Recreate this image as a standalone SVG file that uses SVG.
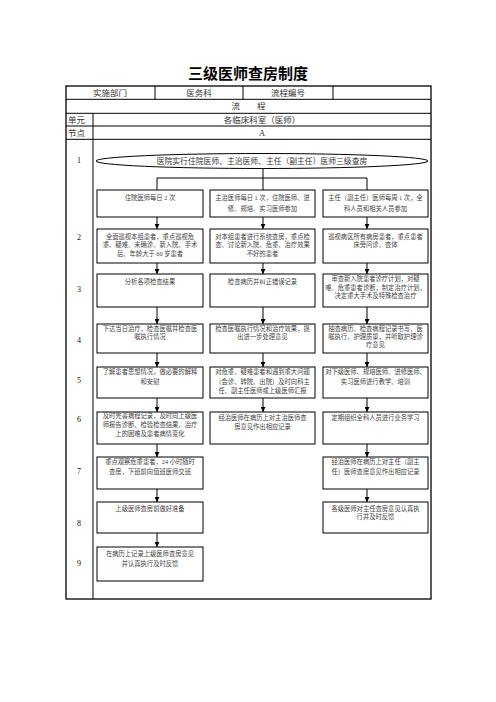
<svg xmlns="http://www.w3.org/2000/svg" width="496" height="702" viewBox="0 0 496 702">
<style>
.t{font-family:"Liberation Serif","Noto Sans CJK SC",serif;fill:#333;}
.h{font-size:8.5px;}
.b{font-size:6.3px;text-anchor:middle;fill:#444;}
.n{font-size:8px;text-anchor:middle;fill:#111;}
.box{fill:#fff;stroke:#000;stroke-width:1;}
.ln{stroke:#000;stroke-width:1;fill:none;}
.ar{stroke:#000;stroke-width:1;fill:none;marker-end:url(#ah);}
</style>
<defs>
<marker id="ah" viewBox="0 0 6 6" refX="6" refY="3" markerWidth="5" markerHeight="5" markerUnits="userSpaceOnUse" orient="auto"><path d="M0,0 L6,3 L0,6 z" fill="#000"/></marker>
</defs>
<rect width="496" height="702" fill="#fff"/>
<text x="248" y="78.5" style="font-family:'Noto Sans CJK SC',sans-serif;font-size:15px;font-weight:bold;text-anchor:middle;fill:#000">三级医师查房制度</text>

<g id="table" fill="none" stroke="#000">
<rect x="66" y="86" width="365" height="513" stroke-width="1.3"/>
<line x1="66" y1="99.3" x2="431" y2="99.3"/>
<line x1="66" y1="113.3" x2="431" y2="113.3"/>
<line x1="66" y1="126" x2="431" y2="126"/>
<line x1="66" y1="139.3" x2="431" y2="139.3"/>
<line x1="155" y1="86" x2="155" y2="99.3"/>
<line x1="243" y1="86" x2="243" y2="99.3"/>
<line x1="333" y1="86" x2="333" y2="99.3"/>
<line x1="93" y1="113.3" x2="93" y2="599"/>
</g>
<g id="header" class="t h">
<text x="110" y="95.5" text-anchor="middle">实施部门</text>
<text x="199" y="95.5" text-anchor="middle">医务科</text>
<text x="288" y="95.5" text-anchor="middle">流程编号</text>
<text x="248.5" y="109.2" text-anchor="middle">流　　程</text>
<text x="68" y="122.6">单元</text>
<text x="262" y="122.6" text-anchor="middle">各临床科室（医师）</text>
<text x="68" y="135.6">节点</text>
<text x="262" y="135.6" text-anchor="middle">A</text>
</g>
<g id="labels" class="t n">
<text x="79" y="163">1</text>
<text x="79" y="240">2</text>
<text x="79" y="292">3</text>
<text x="79" y="343">4</text>
<text x="79" y="383">5</text>
<text x="79" y="422">6</text>
<text x="79" y="474">7</text>
<text x="79" y="526">8</text>
<text x="79" y="566">9</text>
</g>

<g id="connectors">
<line class="ln" x1="263" y1="168.5" x2="263" y2="178"/>
<line class="ln" x1="157" y1="178" x2="367" y2="178"/>
<line class="ln" x1="157" y1="178" x2="157" y2="190"/>
<line class="ln" x1="263" y1="178" x2="263" y2="190"/>
<line class="ln" x1="367" y1="178" x2="367" y2="190"/>
<line class="ar" x1="157" y1="217" x2="157" y2="229"/>
<line class="ar" x1="157" y1="263" x2="157" y2="274"/>
<line class="ar" x1="157" y1="307" x2="157" y2="324"/>
<line class="ar" x1="157" y1="353" x2="157" y2="367"/>
<line class="ar" x1="157" y1="398" x2="157" y2="412"/>
<line class="ar" x1="157" y1="444" x2="157" y2="457"/>
<line class="ar" x1="157" y1="489" x2="157" y2="502"/>
<line class="ar" x1="157" y1="533" x2="157" y2="547"/>
<line class="ar" x1="263" y1="217" x2="263" y2="229"/>
<line class="ar" x1="263" y1="263" x2="263" y2="274"/>
<line class="ar" x1="263" y1="307" x2="263" y2="324"/>
<line class="ar" x1="263" y1="353" x2="263" y2="367"/>
<line class="ar" x1="263" y1="398" x2="263" y2="412"/>
<line class="ar" x1="367" y1="217" x2="367" y2="229"/>
<line class="ar" x1="367" y1="263" x2="367" y2="274"/>
<line class="ar" x1="367" y1="307" x2="367" y2="324"/>
<line class="ar" x1="367" y1="353" x2="367" y2="367"/>
<line class="ar" x1="367" y1="398" x2="367" y2="412"/>
<line class="ar" x1="367" y1="444" x2="367" y2="457"/>
<line class="ar" x1="367" y1="489" x2="367" y2="502"/>
</g>

<g id="start">
<ellipse class="box" cx="262" cy="161" rx="166" ry="7.5"/>
<text class="t" x="262" y="163.8" style="font-size:7.8px;text-anchor:middle">医院实行住院医师、主治医师、主任（副主任）医师三级查房</text>
</g>

<g id="n1a"><rect class="box" x="97" y="190" width="106" height="27"/><text class="t b" x="150" y="199.5">住院医师每日 2 次</text></g>
<g id="n1b"><rect class="box" x="210" y="190" width="105" height="27"/><text class="t b" x="262.5" y="199.5">主治医师每日 1 次，住院医师、进</text><text class="t b" x="262.5" y="211.3">修、规培、实习医师参加</text></g>
<g id="n1c"><rect class="box" x="323" y="190" width="105" height="27"/><text class="t b" x="375.5" y="199.5">主任（副主任）医师每周 1 次，全</text><text class="t b" x="375.5" y="211.3">科人员和相关人员参加</text></g>

<g id="n2a"><rect class="box" x="97" y="229" width="106" height="34"/><text class="t b" x="150" y="239">全面巡视本组患者，重点巡视危</text><text class="t b" x="150" y="247.3">重、疑难、未确诊、新入院、手术</text><text class="t b" x="150" y="255.6">后、年龄大于 60 岁患者</text></g>
<g id="n2b"><rect class="box" x="210" y="229" width="105" height="34"/><text class="t b" x="262.5" y="239">对本组患者进行系统查房，重点检</text><text class="t b" x="262.5" y="247.3">查、讨论新入院、危重、治疗效果</text><text class="t b" x="262.5" y="255.6">不好的患者</text></g>
<g id="n2c"><rect class="box" x="323" y="229" width="105" height="34"/><text class="t b" x="375.5" y="239">巡视病区所有病房患者，重点患者</text><text class="t b" x="375.5" y="247.3">床旁问诊、查体</text></g>

<g id="n3a"><rect class="box" x="97" y="274" width="106" height="33"/><text class="t b" x="150" y="283.5">分析各项检查结果</text></g>
<g id="n3b"><rect class="box" x="210" y="274" width="105" height="33"/><text class="t b" x="262.5" y="283.5">检查病历并纠正错误记录</text></g>
<g id="n3c"><rect class="box" x="323" y="274" width="105" height="33"/><text class="t b" x="375.5" y="281.3">审查新入院患者诊疗计划，对疑</text><text class="t b" x="375.5" y="289.6">难、危重患者诊断，制定治疗计划，</text><text class="t b" x="375.5" y="297.9">决定重大手术及特殊检查治疗</text></g>

<g id="n4a"><rect class="box" x="97" y="324" width="106" height="29"/><text class="t b" x="150" y="330.6">下达当日治疗，检查医嘱并检查医</text><text class="t b" x="150" y="338.6">嘱执行情况</text></g>
<g id="n4b"><rect class="box" x="210" y="324" width="105" height="29"/><text class="t b" x="262.5" y="330.6">检查医嘱执行情况和治疗效果，提</text><text class="t b" x="262.5" y="338.6">出进一步处理意见</text></g>
<g id="n4c"><rect class="box" x="323" y="324" width="105" height="29"/><text class="t b" x="375.5" y="330.6">抽查病历、检查病程记录书写、医</text><text class="t b" x="375.5" y="338.6">嘱执行、护理质量，并听取护理诊</text><text class="t b" x="375.5" y="346.6">疗意见</text></g>

<g id="n5a"><rect class="box" x="97" y="367" width="106" height="31"/><text class="t b" x="150" y="374.3">了解患者思想情况，做必要的解释</text><text class="t b" x="150" y="383.5">和安慰</text></g>
<g id="n5b"><rect class="box" x="210" y="367" width="105" height="31"/><text class="t b" x="262.5" y="374.3">对危重、疑难患者和遇到重大问题</text><text class="t b" x="262.5" y="383.5">（会诊、转院、出院）及时向科主</text><text class="t b" x="262.5" y="392.5">任、副主任医师或上级医师汇报</text></g>
<g id="n5c"><rect class="box" x="323" y="367" width="105" height="31"/><text class="t b" x="375.5" y="374.3">对下级医师、规培医师、进修医师、</text><text class="t b" x="375.5" y="383.5">实习医师进行教学、培训</text></g>

<g id="n6a"><rect class="box" x="97" y="412" width="106" height="32"/><text class="t b" x="150" y="418.3">及时完善病程记录，及时向上级医</text><text class="t b" x="150" y="427.3">师报告诊断、检验检查结果、治疗</text><text class="t b" x="150" y="436.3">上的困难及患者病情变化</text></g>
<g id="n6b"><rect class="box" x="210" y="412" width="105" height="32"/><text class="t b" x="262.5" y="419.5">经治医师在病历上对主治医师查</text><text class="t b" x="262.5" y="428.5">房意见作出相应记录</text></g>
<g id="n6c"><rect class="box" x="323" y="412" width="105" height="32"/><text class="t b" x="375.5" y="420.3">定期组织全科人员进行业务学习</text></g>

<g id="n7a"><rect class="box" x="97" y="457" width="106" height="32"/><text class="t b" x="150" y="464.3">重点观察危重患者，24 小时随时</text><text class="t b" x="150" y="473.8">查房，下班前向值班医师交班</text></g>
<g id="n7c"><rect class="box" x="323" y="457" width="105" height="32"/><text class="t b" x="375.5" y="464.3">经治医师在病历上对主任（副主</text><text class="t b" x="375.5" y="473.8">任）医师查房意见作出相应记录</text></g>

<g id="n8a"><rect class="box" x="97" y="502" width="106" height="31"/><text class="t b" x="150" y="510.6">上级医师查房前做好准备</text></g>
<g id="n8c"><rect class="box" x="323" y="502" width="105" height="31"/><text class="t b" x="375.5" y="510.6">各级医师对主任查房意见认真执</text><text class="t b" x="375.5" y="519.4">行并及时反馈</text></g>

<g id="n9a"><rect class="box" x="97" y="547" width="106" height="34"/><text class="t b" x="150" y="556.3">在病历上记录上级医师查房意见</text><text class="t b" x="150" y="565.6">并认真执行及时反馈</text></g>
</svg>
